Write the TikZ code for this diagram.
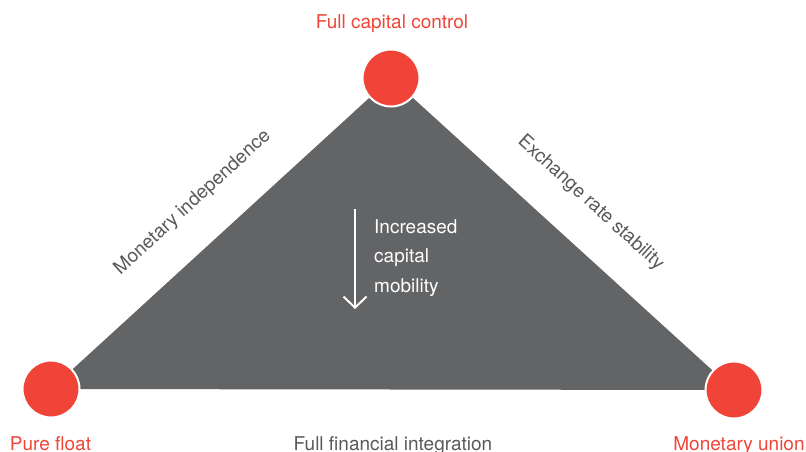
\documentclass[tikz,border=0pt]{standalone}
\usepackage{fontspec}
\setmainfont{TeX Gyre Heros}
\usetikzlibrary{arrows.meta}
\definecolor{tri}{RGB}{99,100,102}
\definecolor{dot}{RGB}{240,68,56}
\definecolor{lbl}{RGB}{88,89,91}
\begin{document}
\begin{tikzpicture}[x=1pt,y=-1pt,
  txt/.style={font=\fontsize{19}{23}\selectfont, inner sep=0pt},
  corner/.style={circle, fill=dot, draw=white, line width=2pt, minimum size=57pt, inner sep=0pt},
  cornerlabel/.style={txt, text=dot, anchor=base},
  edgelabel/.style={txt, text=lbl, anchor=base},
  inlabel/.style={txt, text=white, anchor=base west}]
\useasboundingbox (0,0) rectangle (806,452);
\coordinate (T) at (391,78);
\coordinate (L) at (51,389);
\coordinate (R) at (734,390);
\fill[tri] (L) -- (T) -- (R) -- cycle;
\node[corner] (cT) at (T) {};
\node[corner] (cL) at (L) {};
\node[corner] (cR) at (R) {};
\node[cornerlabel] (lT) at (392,29) {Full capital control};
\node[cornerlabel] (lL) at (50.5,450) {Pure float};
\node[cornerlabel] (lR) at (739,450) {Monetary union};
\node[edgelabel] (lB) at (393,450) {Full financial integration};
\node[edgelabel, rotate=42.45] (lLeft) at (196,206.2) {Monetary independence};
\node[edgelabel, rotate=-42.3] (lRight) at (587.4,206.6) {Exchange rate stability};
\coordinate (a1) at (355,209);
\coordinate (a2) at (355,309);
\draw[white, line width=2pt, -{Straight Barb[length=11pt,width=23pt]}] (a1) -- (a2);
\node[inlabel] (i1) at (374,233) {Increased};
\node[inlabel] (i2) at (374,262.5) {capital};
\node[inlabel] (i3) at (374,292) {mobility};
\end{tikzpicture}
\end{document}
